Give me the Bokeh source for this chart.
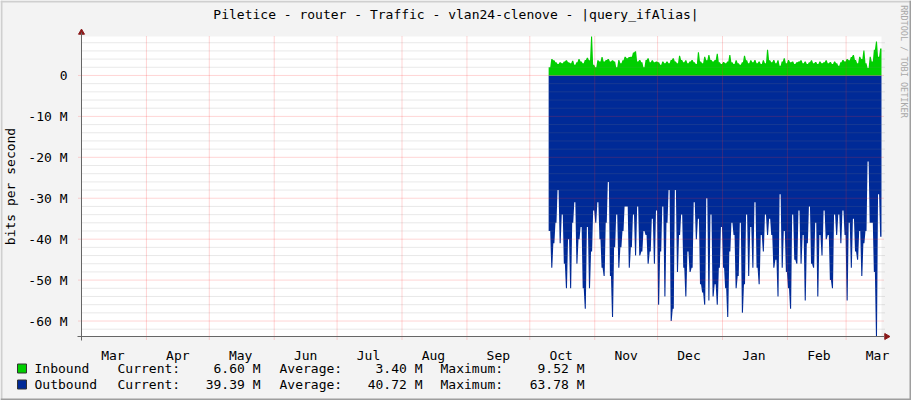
import math
from bokeh.plotting import figure
from bokeh.models import Range1d, FixedTicker, Label, BoxAnnotation
from bokeh.embed import file_html
from bokeh.resources import INLINE

# ---------------- data ----------------
title_text = "Piletice - router - Traffic - vlan24-clenove - |query_ifAlias|"
y_axis_title = "bits per second"
watermark = "RRDTOOL / TOBI OETIKER"

# days counted from 1 March
month_starts = [0, 31, 61, 92, 122, 153, 184, 214, 245, 275, 306, 337, 365]
month_labels = ["Mar", "Apr", "May", "Jun", "Jul", "Aug", "Sep", "Oct",
                "Nov", "Dec", "Jan", "Feb", "Mar"]
y_ticks = [0, -10, -20, -30, -40, -50, -60]
y_tick_labels = ["0", "-10 M", "-20 M", "-30 M", "-40 M", "-50 M", "-60 M"]

data_start_day = 223  # first daily sample (10 Oct)

# daily inbound traffic, Mbit/s
inbound = [
    2.0, 4.0, 3.7, 3.2, 2.8, 3.2, 3.0, 3.4, 3.7, 3.2, 3.0, 3.6, 2.6, 3.2, 4.0,
    3.4, 3.0, 3.8, 4.3, 3.7, 9.52, 2.6, 2.0, 3.7, 3.4, 4.5, 3.4, 3.8, 4.0, 3.4,
    3.7, 3.4, 2.0, 3.8, 3.0, 3.7, 4.6, 4.2, 4.5,
    4.6, 5.6, 5.9, 3.4, 3.8, 3.2, 2.0, 3.8, 4.2, 3.2, 3.7, 3.2, 3.4, 3.2, 2.6,
    3.4, 3.0, 3.4, 3.0, 3.8, 4.2, 3.4, 3.0, 4.8, 3.8, 3.2, 3.7, 3.0, 3.4, 3.8,
    3.2, 2.8, 5.7, 3.4, 3.0, 4.6, 3.7, 5.0, 3.8, 3.4,
    3.8, 5.3, 3.2, 2.8, 3.3, 3.0, 3.4, 5.0, 3.2, 2.8, 3.7, 3.0, 2.6, 3.2, 4.8,
    3.7, 3.0, 3.7, 3.2, 3.8, 3.0, 3.4, 2.8, 3.7, 3.0, 6.3, 3.7, 3.2, 3.8, 3.0,
    3.7, 2.4, 3.4, 4.2, 3.0, 3.8, 3.2, 3.4, 2.8,
    3.2, 3.4, 3.7, 3.0, 3.4, 2.8, 3.2, 3.7, 3.0, 3.3, 2.8, 3.4, 3.0, 3.2, 3.7,
    3.0, 3.3, 2.8, 3.4, 3.0, 2.4, 3.2, 3.8, 3.4, 4.0, 3.7, 4.5, 5.0, 3.8, 3.0,
    4.6, 4.0, 6.1, 3.0, 1.8, 4.6, 3.4, 6.3, 8.3, 4.6, 6.60,
]
# daily outbound traffic, Mbit/s (drawn below zero)
outbound = [
    38, 47, 41, 36, 28, 41, 34, 46, 52, 40, 52, 36, 31, 46, 40, 37, 52, 57, 37,
    52, 43, 33, 36, 31, 40, 47, 49, 36, 26, 49, 59, 42, 34, 47, 42, 38, 32, 32,
    47,
    42, 34, 44, 32, 44, 43, 38, 39, 46, 43, 35, 46, 33, 56, 43, 32, 54, 36, 28,
    60, 57, 28, 48, 39, 34, 47, 54, 43, 48, 47, 31, 40, 35, 51, 53, 56, 30, 55,
    34, 54,
    51, 56, 47, 37, 47, 52, 59, 43, 36, 39, 52, 49, 36, 58, 51, 34, 49, 37, 47,
    31, 47, 51, 39, 43, 34, 39, 35, 39, 47, 45, 54, 29, 47, 38, 48, 52, 57, 34,
    45,
    46, 33, 46, 39, 55, 41, 32, 46, 47, 36, 54, 39, 44, 33, 40, 39, 50, 52, 34,
    39, 34, 41, 33, 39, 55, 36, 47, 35, 43, 45, 38, 49, 41, 38, 21, 36, 36, 48,
    63.78, 29, 39.39,
]

series_names = ["Inbound", "Outbound"]
series_colors = ["#00CF00", "#002A97"]
stat_names = ["Current:", "Average:", "Maximum:"]
inbound_stats = [6.60, 3.40, 9.52]
outbound_stats = [39.39, 40.72, 63.78]

# ---------------- figure ----------------
W, H = 911, 400
X0, X1 = 0.0, 381.9          # data window (days)
Y0, Y1 = -63.78, 9.52        # data window (Mbit/s)
CL, CT, CW, CH = 81, 36, 800, 300   # canvas box in pixels
FONT = "DejaVu Sans Mono"
KX = (X1 - X0) / CW
KY = (Y1 - Y0) / CH

def X(px):
    return X0 + (px - CL) * KX

def Y(py):
    return Y1 - (py - CT) * KY

p = figure(width=W, height=H, output_backend="svg", toolbar_location=None,
           title=None, x_range=Range1d(X(0), X(W)), y_range=Range1d(Y(H), Y(0)),
           min_border=0, min_border_left=0, min_border_right=0,
           min_border_top=0, min_border_bottom=0,
           background_fill_color="#F3F3F3", border_fill_color="#F3F3F3",
           outline_line_color=None)

# outer shade and white canvas
def box(l, r, t, b, color, level="underlay"):
    p.add_layout(BoxAnnotation(left=X(l), right=X(r), top=Y(t), bottom=Y(b),
                               fill_color=color, fill_alpha=1, line_color=None,
                               level=level))

box(0, W, 0, 2, "#CFCFCF")
box(0, 2, 0, H, "#CFCFCF")
box(W - 2, W, 0, H, "#9E9E9E")
box(0, W, H - 2, H, "#9E9E9E")
box(CL, CL + CW, CT, CT + CH, "#FFFFFF")

# data areas: each daily sample held flat for half a day, joined to the next
# one by a slope (rrdtool slope mode look)
def stepped(vals, sign):
    xs, ys = [data_start_day], [sign * vals[0]]
    for i, v in enumerate(vals):
        s = data_start_day + i
        xs += [s + 0.25, s + 0.75]
        ys += [sign * v, sign * v]
    xs.append(data_start_day + len(vals))
    ys.append(sign * vals[-1])
    return [min(x, X1) for x in xs], ys

ox, oy = stepped(outbound, -1)
ix, iy = stepped(inbound, 1)
p.varea(x=ox, y1=[0] * len(ox), y2=oy, fill_color=series_colors[1])
p.varea(x=ix, y1=[0] * len(ix), y2=iy, fill_color=series_colors[0])

# grid, over the data
p.xgrid.visible = False
p.ygrid.visible = False
minor = [v for v in range(-62, 10, 2) if v % 10 != 0]
p.segment(x0=[X(CL)] * len(minor), x1=[X(CL + CW + 3)] * len(minor),
          y0=minor, y1=minor, line_color="#808080", line_alpha=0.35,
          line_dash="1 1", line_width=1)
p.segment(x0=[X(CL - 3)] * len(y_ticks), x1=[X(CL + CW + 3)] * len(y_ticks),
          y0=y_ticks, y1=y_ticks, line_color="#FF3030", line_alpha=0.4,
          line_dash="1 1", line_width=1)
p.segment(x0=month_starts, x1=month_starts,
          y0=[Y(CT)] * len(month_starts), y1=[Y(CT + CH + 3)] * len(month_starts),
          line_color="#FF3030", line_alpha=0.4, line_dash="1 1", line_width=1)

# axes placed on the canvas edges
axis_col = "#666666"
xa = p.xaxis[0]
xa.fixed_location = Y0
xa.bounds = (X(CL - 4), X(CL + CW + 3))
xa.ticker = FixedTicker(ticks=[m + 15 for m in month_starts])
xa.major_label_overrides = {float(m + 15): lab for m, lab in zip(month_starts, month_labels)}
xa.major_tick_line_color = None
xa.minor_tick_line_color = None
xa.major_label_standoff = 5

ya = p.yaxis[0]
ya.fixed_location = X0
ya.bounds = (Y(CT + CH + 4), Y(CT - 4))
ya.ticker = FixedTicker(ticks=y_ticks)
ya.major_label_overrides = {float(t): lab for t, lab in zip(y_ticks, y_tick_labels)}
ya.major_tick_line_color = None
ya.minor_tick_line_color = None
ya.major_label_standoff = 8

for ax in (xa, ya):
    ax.axis_line_color = axis_col
    ax.major_label_text_font = FONT
    ax.major_label_text_font_size = "13px"
    ax.major_label_text_color = "#000000"

# arrow heads
arrow_col = "#8B1A1A"
p.scatter(x=[X0], y=[Y(CT - 4)], marker="triangle", size=6,
          fill_color=arrow_col, line_color=arrow_col)
p.scatter(x=[X(CL + CW + 5)], y=[Y0], marker="triangle", size=6,
          angle=-math.pi / 2, fill_color=arrow_col, line_color=arrow_col)

# texts
def lab(x, y, text, align="left", size="13px", color="#000000", angle=0.0):
    p.add_layout(Label(x=x, y=y, text=text, text_font=FONT, text_font_size=size,
                       text_color=color, text_align=align, text_baseline="middle",
                       angle=angle))

lab(X(455.5), Y(14), title_text, align="center")
lab(X(10), Y(186), y_axis_title, align="center", angle=math.pi / 2)
lab(X(903), Y(61), watermark, align="center", size="8.5px", color="#A8A8A8",
    angle=-math.pi / 2)

rows_y = [368, 384]
stat_x = [117, 279, 440]
val_x = [260, 422, 584]
for name, col, stats, ry in zip(series_names, series_colors,
                                [inbound_stats, outbound_stats], rows_y):
    p.add_layout(BoxAnnotation(left=X(17), right=X(26), top=Y(ry - 4.5),
                               bottom=Y(ry + 4.5), fill_color=col, fill_alpha=1,
                               line_color="#333333", line_alpha=1, line_width=1))
    lab(X(34), Y(ry), name)
    for sn, sv, sx, vx in zip(stat_names, stats, stat_x, val_x):
        lab(X(sx), Y(ry), sn)
        lab(X(vx), Y(ry), f"{sv:.2f} M", align="right")

open("out.html", "w").write(file_html(p, INLINE))
